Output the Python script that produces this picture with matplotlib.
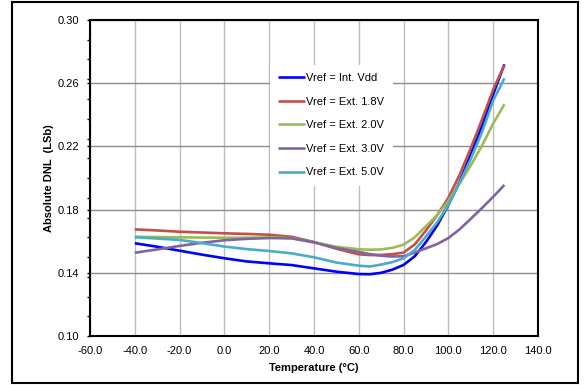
"""
Absolute DNL vs. temperature for several reference voltages.
Recreation of an Excel-style characterisation chart.
"""

import matplotlib
matplotlib.use("Agg")
import matplotlib.pyplot as plt
from matplotlib.patches import Rectangle
from matplotlib.ticker import MultipleLocator, FixedLocator, FuncFormatter


# ─────────────────────────────────────────────
# DATA
# ─────────────────────────────────────────────

temps_c = [-40, -30, -20, -10, 0, 10, 20, 30, 40, 50, 60, 65, 70, 75, 80,
           85, 90, 95, 100, 105, 110, 115, 120, 125]

dnl_int_vdd = [0.1587, 0.1565, 0.1540, 0.1515, 0.1492, 0.1472, 0.1460, 0.1449,
               0.1428, 0.1407, 0.1392, 0.1391, 0.1400, 0.1420, 0.1450, 0.1505,
               0.1595, 0.1700, 0.1830, 0.1975, 0.2150, 0.2330, 0.2530, 0.2720]
dnl_ext_1v8 = [0.1675, 0.1668, 0.1660, 0.1655, 0.1650, 0.1646, 0.1641, 0.1628,
               0.1595, 0.1552, 0.1517, 0.1512, 0.1513, 0.1518, 0.1528, 0.1580,
               0.1668, 0.1765, 0.1875, 0.2020, 0.2190, 0.2370, 0.2560, 0.2715]
dnl_ext_2v0 = [0.1628, 0.1626, 0.1625, 0.1623, 0.1622, 0.1622, 0.1624, 0.1620,
               0.1592, 0.1565, 0.1549, 0.1546, 0.1548, 0.1558, 0.1578, 0.1625,
               0.1695, 0.1765, 0.1855, 0.1965, 0.2080, 0.2205, 0.2345, 0.2467]
dnl_ext_3v0 = [0.1527, 0.1548, 0.1570, 0.1590, 0.1606, 0.1615, 0.1620, 0.1618,
               0.1593, 0.1557, 0.1532, 0.1518, 0.1508, 0.1503, 0.1505, 0.1528,
               0.1555, 0.1582, 0.1620, 0.1675, 0.1742, 0.1810, 0.1881, 0.1956]
dnl_ext_5v0 = [0.1625, 0.1617, 0.1608, 0.1588, 0.1566, 0.1550, 0.1538, 0.1523,
               0.1498, 0.1465, 0.1445, 0.1440, 0.1452, 0.1468, 0.1492, 0.1545,
               0.1630, 0.1720, 0.1830, 0.1970, 0.2120, 0.2290, 0.2490, 0.2631]

series_labels = ["Vref = Int. Vdd", "Vref = Ext. 1.8V", "Vref = Ext. 2.0V",
                 "Vref = Ext. 3.0V", "Vref = Ext. 5.0V"]
series_colors = ["#0000ff", "#c0504d", "#9bbb59", "#8064a2", "#4bacc6"]

y_major_ticks = [0.10, 0.14, 0.18, 0.22, 0.26, 0.30]
y_minor_ticks = [0.10 + 0.0125 * k for k in range(17)]


# ─────────────────────────────────────────────
# PLOT
# ─────────────────────────────────────────────

def main():
    plt.rcParams["font.family"] = ["Liberation Sans", "DejaVu Sans"]
    plt.rcParams["font.size"] = 8

    fig = plt.figure(figsize=(5.86, 3.85), dpi=100)
    ax = fig.add_axes([90 / 586, 49 / 385, 448 / 586, 316 / 385])

    all_series = [dnl_int_vdd, dnl_ext_1v8, dnl_ext_2v0, dnl_ext_3v0, dnl_ext_5v0]
    for values, label, color in zip(all_series, series_labels, series_colors):
        ax.plot(temps_c, values, color=color, lw=1.9, label=label,
                solid_capstyle="butt", zorder=3)

    ax.set_xlim(-60, 140)
    ax.set_ylim(0.10, 0.30)
    ax.xaxis.set_major_locator(MultipleLocator(20))
    ax.yaxis.set_major_locator(FixedLocator(y_major_ticks))
    ax.yaxis.set_minor_locator(FixedLocator(y_minor_ticks))
    ax.xaxis.set_major_formatter(FuncFormatter(lambda v, p: f"{v:.1f}"))
    ax.yaxis.set_major_formatter(FuncFormatter(lambda v, p: f"{v:.2f}"))

    ax.tick_params(axis="x", length=0, pad=7, labelsize=8)
    ax.tick_params(axis="y", which="both", direction="out", length=2.5,
                   width=1, pad=5, labelsize=8)

    # gridlines: light vertical, darker horizontal (Excel look)
    ax.grid(axis="x", color="#bdbdbd", lw=1.0, zorder=1)
    ax.grid(axis="y", which="major", color="#8c8c8c", lw=1.0, zorder=1)
    ax.set_axisbelow(True)

    for side in ["left", "bottom", "top", "right"]:
        ax.spines[side].set_color("black")
        ax.spines[side].set_linewidth(1.5)

    ax.set_xlabel("Temperature (°C)", fontweight="bold", fontsize=8, labelpad=5)
    ax.set_ylabel("Absolute DNL  (LSb)", fontweight="bold", fontsize=8, labelpad=3)

    leg = ax.legend(loc="upper left", bbox_to_anchor=(0.402, 0.858),
                    borderaxespad=0, frameon=True, fancybox=False,
                    facecolor="white", edgecolor="none", framealpha=1,
                    fontsize=8, handlelength=2.4, handletextpad=0.1,
                    labelspacing=1.22, borderpad=0.75)
    leg.set_zorder(5)

    # outer chart border
    fig.patches.append(Rectangle((12 / 586, 2 / 385), 566 / 586, 381 / 385,
                                 transform=fig.transFigure, fill=False,
                                 edgecolor="black", lw=1.5))

    fig.savefig("out.png", dpi=100)


if __name__ == "__main__":
    main()
